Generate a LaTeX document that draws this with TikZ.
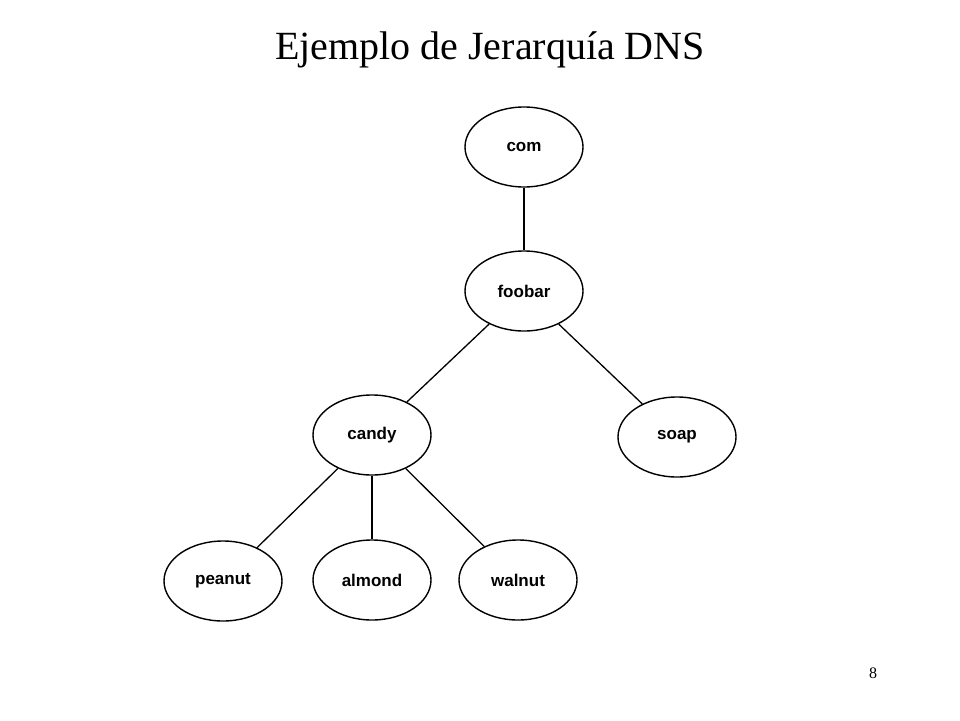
\documentclass[tikz,border=0pt]{standalone}
\usepackage{fontspec}
\setmainfont{Liberation Serif}
\newfontfamily\lsans{Liberation Sans}
\usetikzlibrary{shapes.geometric}
\begin{document}
\begin{tikzpicture}[x=1pt,y=-1pt,
  dn/.style={draw,line width=1.4pt,ellipse,minimum width=118pt,minimum height=80pt,inner sep=0pt,font=\lsans\bfseries\fontsize{17}{20}\selectfont},
  ln/.style={line width=1.3pt}]
\useasboundingbox (0,0) rectangle (960,720);
\node (title) at (490,50) {\fontsize{40}{46}\selectfont Ejemplo de Jerarquía DNS};
\node (pg) at (873,673) {\fontsize{16}{18}\selectfont 8};
\node[dn] (com) at (524,147) {com};
\node[dn] (foobar) at (524,291) {foobar};
\node[dn] (candy) at (372,435) {candy};
\node[dn] (soap) at (677,437) {soap};
\node[dn] (peanut) at (223,581) {peanut};
\node[dn] (almond) at (372,580) {almond};
\node[dn] (walnut) at (518,580) {walnut};
\draw[ln] (com) -- (foobar);
\draw[ln] (foobar) -- (candy);
\draw[ln] (foobar) -- (soap);
\draw[ln] (candy) -- (peanut);
\draw[ln] (candy) -- (almond);
\draw[ln] (candy) -- (walnut);
\end{tikzpicture}
\end{document}
